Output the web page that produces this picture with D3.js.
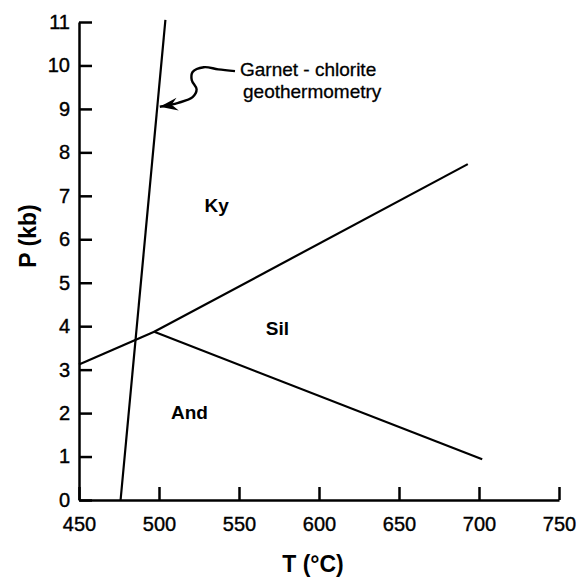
<!DOCTYPE html>
<html>
<head>
<script src="https://cdn.jsdelivr.net/npm/d3@7"></script>
<style>
  body { margin: 0; background: #fff; }
  svg { display: block; }
  .axis text { font-family: "Liberation Sans", Arial, sans-serif; font-size: 20px; fill: #000; stroke: #000; stroke-width: 0.4px; }
  .axis path, .axis line { stroke: #000; stroke-width: 2.5px; }
  .phase { fill: none; stroke: #000; stroke-width: 2.2px; }
  .field { font-family: "Liberation Sans", Arial, sans-serif; font-weight: bold; font-size: 19px; }
  .title { font-family: "Liberation Sans", Arial, sans-serif; font-weight: bold; font-size: 23px; }
  .note { font-family: "Liberation Sans", Arial, sans-serif; font-size: 19px; stroke: #000; stroke-width: 0.3px; }
</style>
</head>
<body>
<script>
// tick values
var tempTicks = [450, 500, 550, 600, 650, 700, 750];
var presTicks = [0, 1, 2, 3, 4, 5, 6, 7, 8, 9, 10, 11];

// lines, [T (C), P (kb)]
var garnetLine = [[476, 0], [504, 11.05]];
var kyAnd = [[450, 3.12], [497, 3.87]];
var kySil = [[497, 3.87], [693, 7.73]];
var andSil = [[497, 3.87], [702, 0.94]];

// field labels
var fields = [
  {name: "Ky", t: 536, p: 6.79},
  {name: "Sil", t: 574, p: 3.96},
  {name: "And", t: 519, p: 2.03}
];

// annotation pointer (curly arrow) in data units
var pointer = [[547.5, 9.87], [537, 9.91], [528, 9.96], [521, 9.85], [520.5, 9.66], [523.5, 9.45],
               [521, 9.27], [512, 9.14], [500.5, 9.05]];
var noteLines = ["Garnet - chlorite", "geothermometry"];

var width = 582, height = 581;
var x = d3.scaleLinear().domain([450, 750]).range([79, 559]);
var y = d3.scaleLinear().domain([0, 11]).range([500, 22]);

var svg = d3.select("body").append("svg")
  .attr("width", width).attr("height", height);

svg.append("defs").append("marker")
  .attr("id", "head")
  .attr("viewBox", "-20 -8 22 16")
  .attr("refX", 0).attr("refY", 0)
  .attr("markerWidth", 22).attr("markerHeight", 16)
  .attr("markerUnits", "userSpaceOnUse")
  .attr("orient", "auto")
  .append("path")
  .attr("d", "M0,0 L-18,-7 L-12,0 L-18,6 Z")
  .attr("fill", "#000");

svg.append("g").attr("class", "axis")
  .attr("transform", "translate(0,500)")
  .call(d3.axisBottom(x).tickValues(tempTicks).tickSize(-13).tickSizeOuter(0).tickPadding(17))
  .call(function(g) { g.selectAll("text").attr("dy", "0.71em"); });

svg.append("g").attr("class", "axis")
  .attr("transform", "translate(79,0)")
  .call(d3.axisLeft(y).tickValues(presTicks).tickSize(-13).tickSizeOuter(0).tickPadding(9));

var line = d3.line().x(function(d) { return x(d[0]); }).y(function(d) { return y(d[1]); });

[garnetLine, kyAnd, kySil, andSil].forEach(function(l) {
  svg.append("path").attr("class", "phase").attr("d", line(l));
});

svg.selectAll(".field").data(fields).enter().append("text")
  .attr("class", "field")
  .attr("x", function(d) { return x(d.t); })
  .attr("y", function(d) { return y(d.p) + 7; })
  .attr("text-anchor", "middle")
  .text(function(d) { return d.name; });

svg.append("path")
  .attr("d", d3.line().curve(d3.curveCatmullRom).x(function(d) { return x(d[0]); }).y(function(d) { return y(d[1]); })(pointer))
  .attr("fill", "none").attr("stroke", "#000").attr("stroke-width", 2.4)
  .attr("marker-end", "url(#head)");

svg.selectAll(".note").data(noteLines).enter().append("text")
  .attr("class", "note")
  .attr("x", function(d, i) { return i == 0 ? 240 : 243; })
  .attr("y", function(d, i) { return 76 + i * 22; })
  .text(function(d) { return d; });

svg.append("text").attr("class", "title")
  .attr("x", 313).attr("y", 572)
  .attr("text-anchor", "middle")
  .text("T (°C)");

svg.append("text").attr("class", "title")
  .attr("transform", "translate(36,236) rotate(-90)")
  .attr("text-anchor", "middle")
  .text("P (kb)");
</script>
</body>
</html>
